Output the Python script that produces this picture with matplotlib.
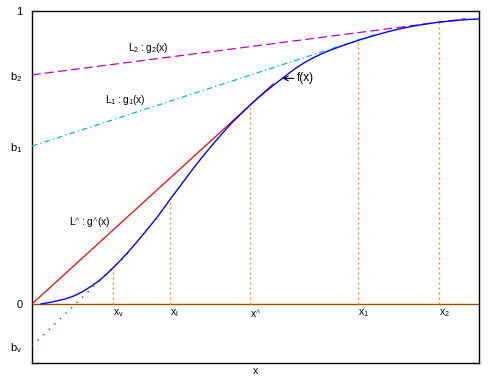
import matplotlib
matplotlib.use("Agg")
import matplotlib.pyplot as plt
import numpy as np

plt.rcParams['font.family'] = ['Liberation Sans', 'DejaVu Sans']
plt.rcParams['mathtext.default'] = 'regular'

# f(x) curve
f_x = [0.020, 0.045, 0.074, 0.093, 0.112, 0.132, 0.152, 0.166, 0.181, 0.198,
       0.215, 0.236, 0.257, 0.280, 0.309, 0.335, 0.360, 0.379, 0.398, 0.417,
       0.436, 0.450, 0.465, 0.488, 0.506, 0.525, 0.543, 0.560, 0.577, 0.593,
       0.611, 0.629, 0.648, 0.667, 0.686, 0.705, 0.732, 0.756, 0.779, 0.798,
       0.817, 0.835, 0.852, 0.882, 0.911, 0.931, 0.951, 0.975, 1.000]
f_y = [0.000, 0.007, 0.017, 0.027, 0.041, 0.060, 0.082, 0.101, 0.123, 0.149,
       0.177, 0.214, 0.253, 0.296, 0.357, 0.410, 0.461, 0.498, 0.533, 0.567,
       0.600, 0.623, 0.645, 0.679, 0.704, 0.728, 0.750, 0.770, 0.790, 0.808,
       0.825, 0.840, 0.854, 0.866, 0.877, 0.887, 0.901, 0.912, 0.922, 0.930,
       0.937, 0.943, 0.948, 0.956, 0.962, 0.965, 0.968, 0.971, 0.973]

# special x positions and f values there
mark_names = [r'$x_v$', r'$x_l$', r'$x^{\wedge}$', r'$x_1$', r'$x_2$']
mark_x = [0.181, 0.309, 0.488, 0.730, 0.911]
mark_f = [0.123, 0.357, 0.679, 0.901, 0.962]

# tangent lines: intercept, tangent point x, tangent f, end x
line_b = [0.0, 0.539, 0.782, -0.143]        # L^, L1, L2, Lv
line_tx = [0.488, 0.730, 0.911, 0.181]
line_tf = [0.679, 0.901, 0.962, 0.123]
line_end = [0.54, 0.772, 0.97, 0.215]

ytick_vals = [1.0, 0.782, 0.539, 0.0, -0.143]
ytick_labels = ['1', r'$b_2$', r'$b_1$', '0', r'$b_v$']

fig = plt.figure(figsize=(4.9, 3.85), dpi=100)
ax = fig.add_axes([32/490, 1-363/385, 447/490, 352/385])
ax.set_xlim(0, 1)
ax.set_ylim(-0.2014, 1.0)

# zero line
ax.axhline(0, color='#a05000', lw=1.0, zorder=1)

# vertical dotted guides
for mx, mf in zip(mark_x, mark_f):
    ax.plot([mx, mx], [0, mf], color='#ff8000', lw=0.9,
            linestyle=(0, (1.5, 2.5)), zorder=2)

styles = [dict(color='#ff0000', linestyle='-'),
          dict(color='#00c0c0', linestyle=(0, (4.5, 2.5, 1, 2.5))),
          dict(color='#c000c0', linestyle=(0, (7, 3.5))),
          dict(color='#008000', linestyle=(0, (1.2, 5)))]
for b, tx, tf, xe, st in zip(line_b, line_tx, line_tf, line_end, styles):
    slope = (tf - b) / tx
    xs = np.array([0.0, xe])
    ax.plot(xs, b + slope * xs, lw=0.9, zorder=3, **st)

ax.plot(f_x, f_y, color='#0000ff', lw=1.0, zorder=4)

# x position labels
for name, mx in zip(mark_names, mark_x):
    ax.text(mx, -0.012, name, ha='left', va='top', fontsize=7.5)

ax.text(0.26, 0.875, r'$L_2 : g_2(x)$', ha='center', va='center', fontsize=7.5)
ax.text(0.208, 0.695, r'$L_1 : g_1(x)$', ha='center', va='center', fontsize=7.5)
ax.text(0.13, 0.276, r'$L^{\wedge} : g^{\wedge}(x)$', ha='center', va='center', fontsize=7.5)
ax.annotate('f(x)', xy=(0.560, 0.770), xytext=(0.592, 0.770),
            ha='left', va='center', fontsize=8.5,
            arrowprops=dict(arrowstyle='->', color='black', lw=0.8,
                            shrinkA=0, shrinkB=0))

ax.set_xticks([])
ax.set_yticks(ytick_vals)
ax.set_yticklabels(ytick_labels, fontsize=8)
ax.tick_params(axis='y', length=0, pad=7)
ax.set_xlabel('x', fontsize=7.5, labelpad=2)
for s in ax.spines.values():
    s.set_linewidth(1.0)
    s.set_color('black')

fig.savefig('out.png', dpi=100)
